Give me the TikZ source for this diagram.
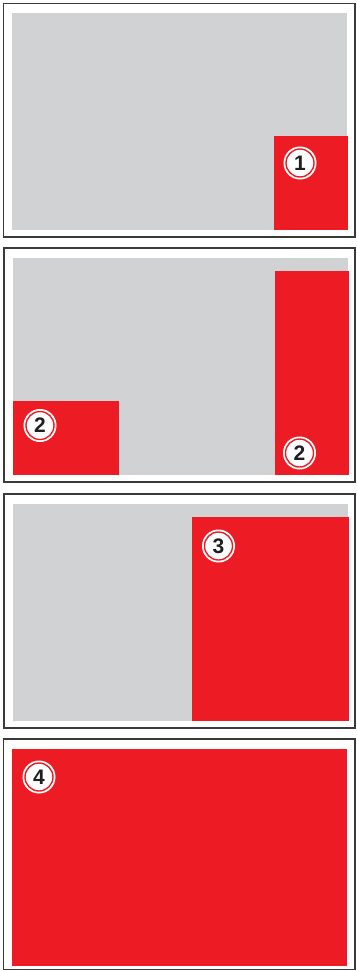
\documentclass[tikz,border=0pt]{standalone}
\usepackage{fontspec}
\setmainfont{Liberation Sans}
\definecolor{redA}{HTML}{ED1C24}
\definecolor{grayA}{HTML}{D1D2D4}
\definecolor{frameA}{HTML}{3A3A3A}
\newcommand{\badgefont}{\fontsize{21}{21}\selectfont\bfseries}
\tikzset{
  panelframe/.style={draw=frameA, line width=1.3pt, fill=white},
  grayarea/.style={fill=grayA},
  redarea/.style={fill=redA},
  badge/.style={circle, fill=white, draw=redA, line width=1.4pt, minimum size=28pt, inner sep=0pt, text=black!88},
  badgeback/.style={circle, fill=white, minimum size=33pt, inner sep=0pt}
}
\newcommand{\badgeat}[3]{%
  \node[badgeback] (#1bg) at (#2) {};
  \node[badge] (#1) at (#2) {\badgefont #3};
}
\begin{document}
\begin{tikzpicture}[x=1pt,y=-1pt]
\useasboundingbox (0,0) rectangle (356,971);
% Panel 1
\draw[panelframe] (3.5,3.5) rectangle (355,237);
\fill[grayarea] (12,13) rectangle (347,230);
\fill[redarea] (274,136) rectangle (348,230);
\badgeat{b1}{300,163}{1}
% Panel 2
\draw[panelframe] (4,248) rectangle (355,482);
\fill[grayarea] (13,258) rectangle (348,475);
\fill[redarea] (275,271) rectangle (349,475);
\fill[redarea] (13,401) rectangle (119,475);
\badgeat{b2a}{40,425.5}{2}
\badgeat{b2b}{299.5,453}{2}
% Panel 3
\draw[panelframe] (4,494) rectangle (355,728);
\fill[grayarea] (13,504) rectangle (348,721);
\fill[redarea] (192,517) rectangle (349,721);
\badgeat{b3}{218.5,546}{3}
% Panel 4
\draw[panelframe] (3.5,739) rectangle (355,969.5);
\fill[redarea] (12,749) rectangle (347,966);
\badgeat{b4}{39,777}{4}
\end{tikzpicture}
\end{document}
